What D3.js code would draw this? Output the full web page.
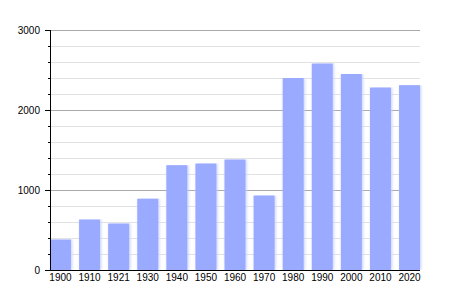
<!DOCTYPE html>
<html>
<head>
<meta charset="utf-8">
<style>
body { margin: 0; background: #fff; }
svg { font: 11px "Liberation Sans", Arial, sans-serif; }
</style>
<script src="https://d3js.org/d3.v7.min.js"></script>
</head>
<body>
<script>
var years = ["1900", "1910", "1921", "1930", "1940", "1950", "1960", "1970", "1980", "1990", "2000", "2010", "2020"];
var population = [380, 630, 580, 890, 1310, 1330, 1380, 930, 2400, 2580, 2450, 2280, 2310];
var majorTicks = [0, 1000, 2000, 3000];
var minorTicks = d3.range(0, 3001, 200);

var margin = {top: 30, right: 30, bottom: 30, left: 50},
    width = 450 - margin.left - margin.right,
    height = 300 - margin.top - margin.bottom;

var svg = d3.select("body").append("svg")
    .attr("width", 450)
    .attr("height", 300)
    .append("g")
    .attr("transform", "translate(" + margin.left + "," + margin.top + ")");

var x = d3.scaleBand()
    .domain(years)
    .range([0, width])
    .paddingInner(0.28)
    .paddingOuter(0);

var y = d3.scaleLinear()
    .domain([0, 3000])
    .range([height, 0]);

// gridlines
svg.selectAll(".minor")
    .data(minorTicks)
    .enter().append("line")
    .attr("x1", 0).attr("x2", width)
    .attr("y1", function(d) { return y(d) + 0.5; })
    .attr("y2", function(d) { return y(d) + 0.5; })
    .attr("stroke", function(d) { return d % 1000 === 0 ? "#aaa" : "#e2e2e2"; });

// bars, with a soft glow on the sides only
var defs = svg.append("defs");
defs.append("filter").attr("id", "soft")
    .attr("x", "-30%").attr("width", "160%")
    .attr("y", "0%").attr("height", "100%")
    .append("feGaussianBlur").attr("stdDeviation", 1.5);

var bars = svg.selectAll(".bar")
    .data(years)
    .enter();

bars.append("rect")
    .attr("x", function(d) { return x(d) + 1; })
    .attr("y", function(d, i) { return y(population[i]); })
    .attr("width", x.bandwidth())
    .attr("height", function(d, i) { return height - y(population[i]); })
    .attr("fill", "#c4ceff")
    .attr("filter", "url(#soft)");

bars.append("rect")
    .attr("x", function(d) { return x(d); })
    .attr("y", function(d, i) { return y(population[i]); })
    .attr("width", x.bandwidth())
    .attr("height", function(d, i) { return height - y(population[i]); })
    .attr("fill", "#99aaff");

// y axis
var yAxis = svg.append("g")
    .call(d3.axisLeft(y).tickValues(majorTicks).tickSize(5).tickPadding(5).tickFormat(d3.format("d")));
yAxis.select(".domain").remove();
yAxis.selectAll("text").attr("fill", "#000");

svg.append("g")
    .call(d3.axisLeft(y).tickValues(minorTicks.filter(function(d) { return d % 1000 !== 0; })).tickSize(2).tickFormat(""))
    .select(".domain").remove();

svg.append("line")
    .attr("x1", 0.5).attr("x2", 0.5)
    .attr("y1", 0).attr("y2", height)
    .attr("stroke", "#000");

// x axis
var xAxis = svg.append("g")
    .attr("transform", "translate(0," + height + ")")
    .call(d3.axisBottom(x).tickSize(0).tickPadding(4));
xAxis.select(".domain").remove();
xAxis.selectAll("text").attr("fill", "#000");

svg.append("line")
    .attr("x1", 0).attr("x2", width)
    .attr("y1", height + 0.5).attr("y2", height + 0.5)
    .attr("stroke", "#000");
</script>
</body>
</html>
